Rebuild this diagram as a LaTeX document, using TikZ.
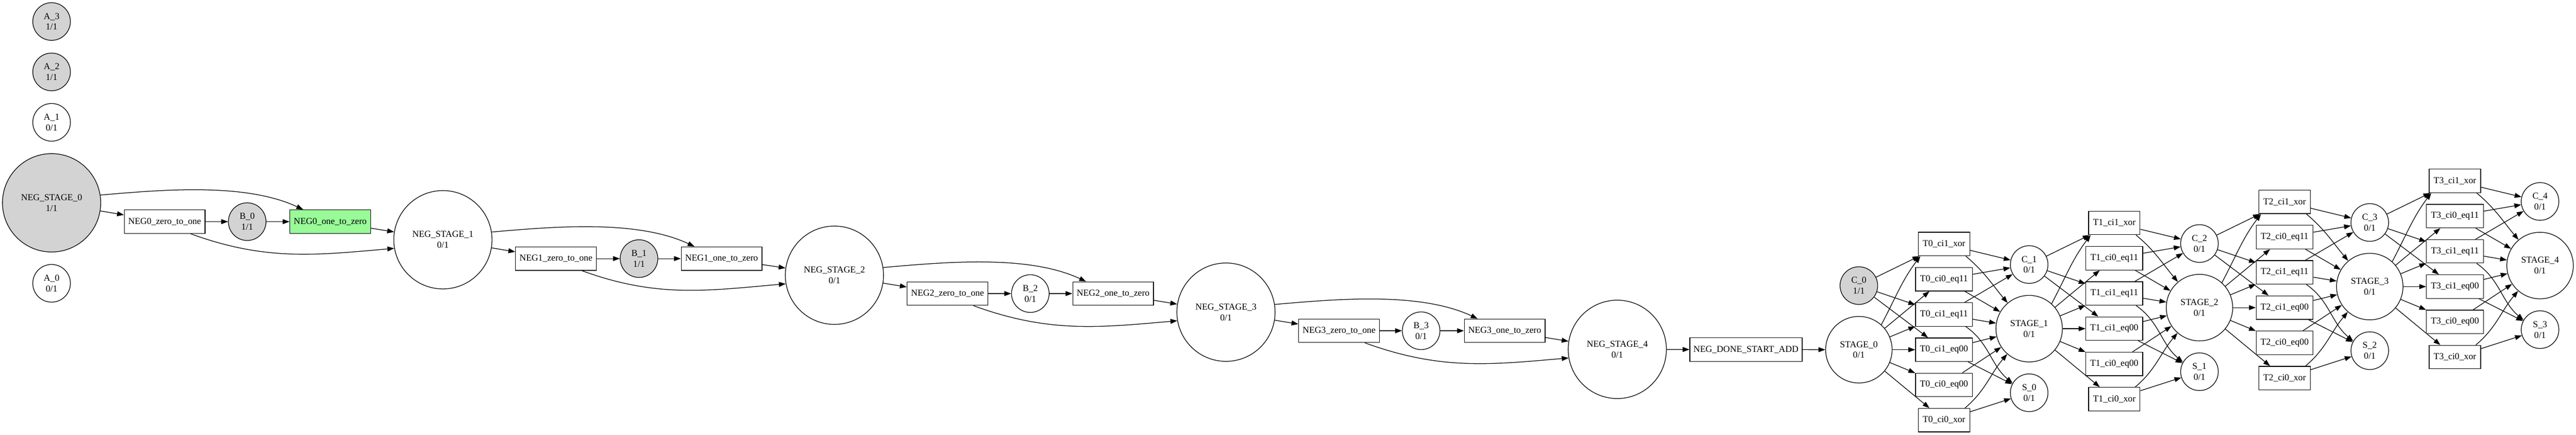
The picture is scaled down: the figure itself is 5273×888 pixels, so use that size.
\documentclass[tikz,border=0pt]{standalone}
\usepackage{fontspec}
\setmainfont{Liberation Serif}
\usetikzlibrary{arrows.meta}
\definecolor{lgray}{HTML}{D3D3D3}
\definecolor{pgreen}{HTML}{98FB98}
\begin{document}
\begin{tikzpicture}[x=0.75pt,y=-0.75pt,
base/.style={
draw,
line width=1pt,
inner sep=0pt,
align=center,
font={\fontsize{14pt}{16.5pt}\selectfont},
},
sm/.style={
base,
circle,
minimum size=57.75pt,
},
neg/.style={
base,
circle,
minimum size=150.75pt,
},
stg/.style={
base,
circle,
minimum size=102pt,
},
nbox/.style={
base,
minimum width=124pt,
minimum height=36pt,
},
dbox/.style={
base,
minimum width=172.5pt,
minimum height=36pt,
},
xbox/.style={
base,
minimum width=79pt,
minimum height=36pt,
},
ebox/.style={
base,
minimum width=87.4pt,
minimum height=36pt,
},
full/.style={
fill=lgray,
},
fired/.style={
fill=pgreen,
},
arr/.style={
line width=1pt,
-{Triangle[length=10.5pt,width=7.5pt]},
},
]
\useasboundingbox (0,0) rectangle (5273,888);
\node[sm,full] (a3) at (105.6,44) {A\_3\\1/1};
\node[sm,full] (a2) at (105.6,147) {A\_2\\1/1};
\node[sm] (a1) at (105.6,250) {A\_1\\0/1};
\node[sm] (a0) at (105.6,579) {A\_0\\0/1};
\node[neg,full] (ns0) at (105.6,414.5) {NEG\_STAGE\_0\\1/1};
\node[nbox] (n0z) at (337,453) {NEG0\_zero\_to\_one};
\node[sm,full] (b0) at (506,453) {B\_0\\1/1};
\node[nbox,fired] (n0o) at (676,453) {NEG0\_one\_to\_zero};
\node[neg] (ns1) at (906.6,490) {NEG\_STAGE\_1\\0/1};
\node[nbox] (n1z) at (1138,528.5) {NEG1\_zero\_to\_one};
\node[sm,full] (b1) at (1308,528.5) {B\_1\\1/1};
\node[nbox] (n1o) at (1477,528.5) {NEG1\_one\_to\_zero};
\node[neg] (ns2) at (1708,562.5) {NEG\_STAGE\_2\\0/1};
\node[nbox] (n2z) at (1939.5,600) {NEG2\_zero\_to\_one};
\node[sm] (b2) at (2109,600) {B\_2\\0/1};
\node[nbox] (n2o) at (2278.5,600) {NEG2\_one\_to\_zero};
\node[neg] (ns3) at (2509.5,638) {NEG\_STAGE\_3\\0/1};
\node[nbox] (n3z) at (2741,676) {NEG3\_zero\_to\_one};
\node[sm] (b3) at (2909,676) {B\_3\\0/1};
\node[nbox] (n3o) at (3080,676) {NEG3\_one\_to\_zero};
\node[neg] (ns4) at (3310.5,714) {NEG\_STAGE\_4\\0/1};
\node[dbox] (done) at (3574,714.5) {NEG\_DONE\_START\_ADD};
\node[stg] (st0) at (3805,714.7) {STAGE\_0\\0/1};
\node[stg] (st1) at (4153.6,671.7) {STAGE\_1\\0/1};
\node[stg] (st2) at (4502.2,628.7) {STAGE\_2\\0/1};
\node[stg] (st3) at (4850.8,585.7) {STAGE\_3\\0/1};
\node[stg] (st4) at (5199.4,542.7) {STAGE\_4\\0/1};
\node[sm,full] (c0) at (3805,583.7) {C\_0\\1/1};
\node[sm] (c1) at (4153.6,540.7) {C\_1\\0/1};
\node[sm] (c2) at (4502.2,497.7) {C\_2\\0/1};
\node[sm] (c3) at (4850.8,454.7) {C\_3\\0/1};
\node[sm] (c4) at (5199.4,411.7) {C\_4\\0/1};
\node[sm] (s0) at (4153.6,802.7) {S\_0\\0/1};
\node[sm] (s1) at (4502.2,759.7) {S\_1\\0/1};
\node[sm] (s2) at (4850.8,716.7) {S\_2\\0/1};
\node[sm] (s3) at (5199.4,673.7) {S\_3\\0/1};
\foreach \i in {0,...,3}{
\pgfmathsetmacro{\tx}{3979.3+348.6*\i}
\pgfmathsetmacro{\ty}{714.7-43*\i}
\node[xbox] (t\i a) at (\tx,\ty-216) {T\i\_ci1\_xor};
\node[ebox] (t\i b) at (\tx,\ty-144) {T\i\_ci0\_eq11};
\node[ebox] (t\i c) at (\tx,\ty-72) {T\i\_ci1\_eq11};
\node[ebox] (t\i d) at (\tx,\ty) {T\i\_ci1\_eq00};
\node[ebox] (t\i e) at (\tx,\ty+72) {T\i\_ci0\_eq00};
\node[xbox] (t\i f) at (\tx,\ty+144) {T\i\_ci0\_xor};
}
\foreach \i [count=\j] in {0,...,3}{
\draw[arr] (ns\i) -- (n\i z);
\draw[arr] (ns\i.9) to[out=5,in=155,looseness=0.8] (n\i o.156);
\draw[arr] (n\i z) -- (b\i);
\draw[arr] (b\i) -- (n\i o);
\draw[arr] (n\i o) -- (ns\j);
\draw[arr] (n\i z.-25) to[out=-20,in=185] (ns\j.190);
}
\draw[arr] (ns4) -- (done);
\draw[arr] (done) -- (st0);
\foreach \i [count=\j] in {0,...,3}{
\draw[arr] (c\i) -- (t\i a);
\draw[arr] (c\i) -- (t\i c);
\draw[arr] (c\i) -- (t\i d);
\draw[arr] (st\i.48) to[out=62,in=-127] (t\i a.-153);
\draw[arr] (st\i) -- (t\i b);
\draw[arr] (st\i) -- (t\i c);
\draw[arr] (st\i) -- (t\i d);
\draw[arr] (st\i) -- (t\i e);
\draw[arr] (st\i) -- (t\i f);
\draw[arr] (t\i a) -- (c\j);
\draw[arr] (t\i a.-29) to[out=-40,in=130] (st\j.130);
\draw[arr] (t\i b) -- (c\j);
\draw[arr] (t\i b) -- (st\j);
\draw[arr] (t\i c) -- (c\j);
\draw[arr] (t\i c) -- (st\j);
\draw[arr] (t\i c.-29) to[out=-35,in=140] (s\i.150);
\draw[arr] (t\i d) -- (st\j);
\draw[arr] (t\i d) -- (s\i);
\draw[arr] (t\i e) -- (st\j);
\draw[arr] (t\i f.30) to[out=40,in=-130] (st\j.-131);
\draw[arr] (t\i f) -- (s\i);
}
\end{tikzpicture}
\end{document}
